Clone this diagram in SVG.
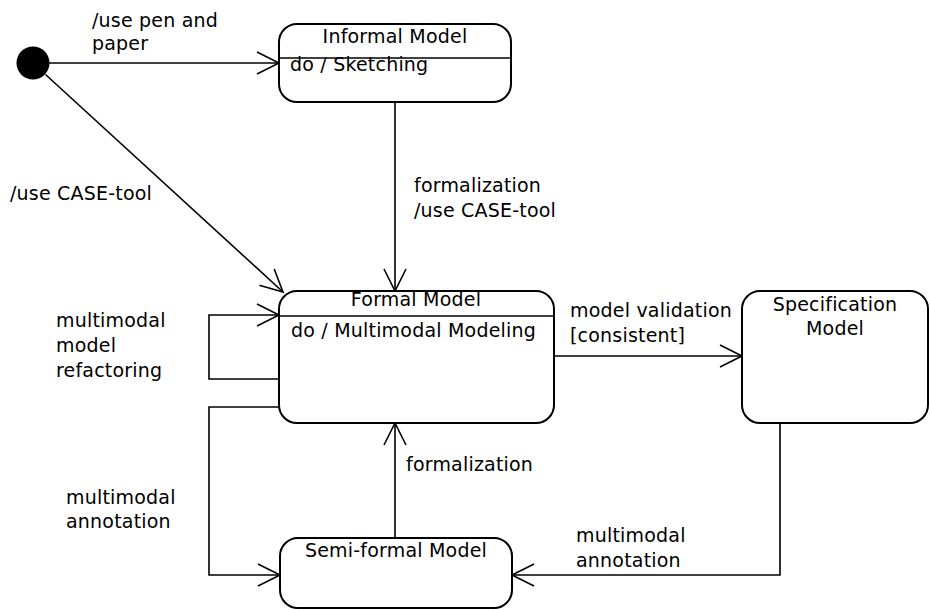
<svg xmlns="http://www.w3.org/2000/svg" width="930" height="610" viewBox="0 0 930 610">
  <style>
    text { font-family: "DejaVu Sans", Verdana, sans-serif; font-size: 19px; fill: #000; letter-spacing: 0.2px; }
    .mid { text-anchor: middle; }
    .state { fill: #fff; stroke: #000; stroke-width: 2; }
    .div { stroke: #000; stroke-width: 1.5; }
    .edge { fill: none; stroke: #000; stroke-width: 1.6; marker-end: url(#open); }
  </style>
  <defs>
    <marker id="open" markerUnits="userSpaceOnUse" markerWidth="26" markerHeight="26" refX="22" refY="11" orient="auto" overflow="visible">
      <path d="M0,0 L22,11 L0,22" fill="none" stroke="#000" stroke-width="1.6"/>
    </marker>
  </defs>
  <rect width="930" height="610" fill="#fff"/>

  <g id="connectors">
    <path class="edge" d="M49,63 H279"/>
    <path class="edge" d="M45.5,74.5 L283,292"/>
    <path class="edge" d="M395,102 V291"/>
    <path class="edge" d="M279,379 H209 V315 H279"/>
    <path class="edge" d="M279,407 H209 V575 H280"/>
    <path class="edge" d="M395,538 V423"/>
    <path class="edge" d="M554,356 H742"/>
    <path class="edge" d="M780,423 V575 H512"/>
  </g>

  <g id="labels">
    <text x="92" y="27">/use pen and</text>
    <text x="92" y="50">paper</text>
    <text x="10" y="200">/use CASE-tool</text>
    <text x="414" y="192">formalization</text>
    <text x="414" y="217">/use CASE-tool</text>
    <text x="56" y="327">multimodal</text>
    <text x="56" y="352">model</text>
    <text x="56" y="377">refactoring</text>
    <text x="570" y="317">model validation</text>
    <text x="570" y="342">[consistent]</text>
    <text x="66" y="504">multimodal</text>
    <text x="66" y="528">annotation</text>
    <text x="406" y="471">formalization</text>
    <text x="576" y="542">multimodal</text>
    <text x="576" y="567">annotation</text>
  </g>

  <g id="initial">
    <circle cx="33" cy="63" r="16.5" fill="#000"/>
  </g>

  <g id="informal-model">
    <rect class="state" x="279" y="24" width="232" height="78" rx="18"/>
    <line class="div" x1="279" y1="58" x2="511" y2="58"/>
    <text class="mid" x="395" y="43">Informal Model</text>
    <text x="290" y="71">do / Sketching</text>
  </g>

  <g id="formal-model">
    <rect class="state" x="279" y="291" width="275" height="132" rx="18"/>
    <line class="div" x1="279" y1="316" x2="554" y2="316"/>
    <text class="mid" x="416" y="306">Formal Model</text>
    <text x="291" y="337">do / Multimodal Modeling</text>
  </g>

  <g id="specification-model">
    <rect class="state" x="742" y="291" width="186" height="132" rx="18"/>
    <text class="mid" x="835" y="311">Specification</text>
    <text class="mid" x="835" y="335">Model</text>
  </g>

  <g id="semi-formal-model">
    <rect class="state" x="280" y="538" width="232" height="70" rx="18"/>
    <text class="mid" x="396" y="557">Semi-formal Model</text>
  </g>
</svg>
